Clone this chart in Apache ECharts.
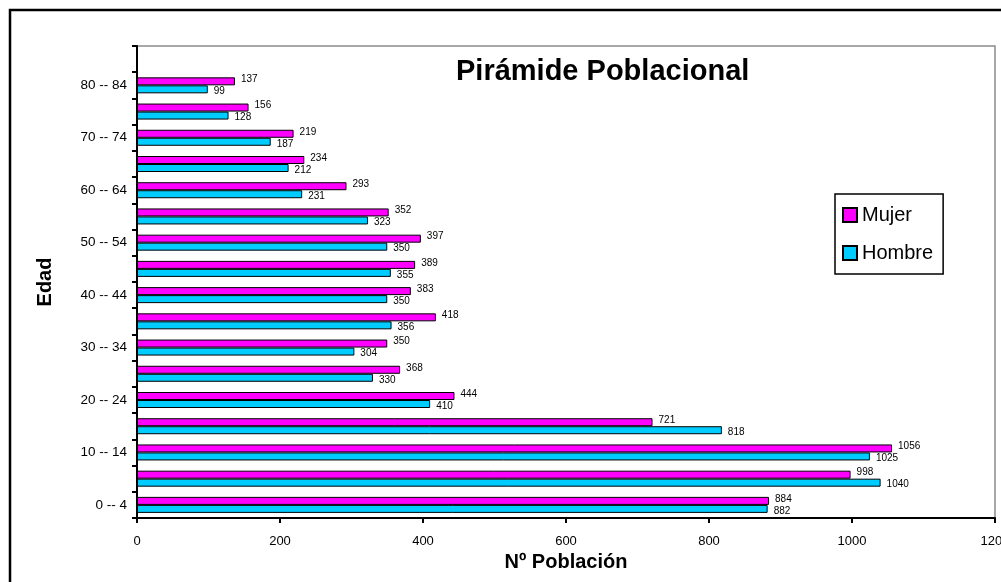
<!DOCTYPE html>
<html>
<head>
<meta charset="utf-8">
<script src="https://cdn.jsdelivr.net/npm/echarts@6/dist/echarts.min.js"></script>
<style>
  html, body { margin: 0; padding: 0; background: #fff; }
  #chart { width: 1001px; height: 582px; }
</style>
</head>
<body>
<div id="chart"></div>
<script>
// grupos de edad, de abajo hacia arriba (el último queda vacío, como en la hoja original)
const edades = ['0 -- 4', '5 -- 9', '10 -- 14', '15 -- 19', '20 -- 24', '25 -- 29', '30 -- 34',
  '35 -- 39', '40 -- 44', '45 -- 49', '50 -- 54', '55 -- 59', '60 -- 64', '65 -- 69',
  '70 -- 74', '75 -- 79', '80 -- 84', '']
const mujer = [884, 998, 1056, 721, 444, 368, 350, 418, 383, 389, 397, 352, 293, 234, 219, 156, 137, null]
const hombre = [882, 1040, 1025, 818, 410, 330, 304, 356, 350, 355, 350, 323, 231, 212, 187, 128, 99, null]
const ticksX = [0, 200, 400, 600, 800, 1000, 1200]

const fuente = 'Liberation Sans, Arial, sans-serif'
const chart = echarts.init(document.getElementById('chart'))

function serie(nombre, datos, color, dy) {
  return {
    name: nombre,
    type: 'bar',
    data: datos,
    barWidth: 8,
    barGap: '0%',
    itemStyle: { color: color, borderColor: '#000', borderWidth: 1 },
    label: {
      show: true, position: 'right', distance: 6, offset: [0, dy],
      color: '#000', fontSize: 10, fontFamily: fuente,
    },
  }
}

chart.setOption({
  backgroundColor: '#fff',
  animation: false,
  title: {
    text: 'Pirámide Poblacional',
    left: 451, top: 52,
    textStyle: { fontFamily: fuente, fontSize: 29, fontWeight: 'bold', color: '#000' },
  },
  legend: {
    data: ['Mujer', 'Hombre'],
    orient: 'vertical',
    left: 835, top: 194,
    padding: [11, 10, 11, 7],
    itemGap: 18,
    itemWidth: 14, itemHeight: 14,
    icon: 'rect',
    borderColor: '#000', borderWidth: 1.5,
    textStyle: { fontFamily: fuente, fontSize: 20, color: '#000' },
  },
  grid: {
    left: 137, right: 6, top: 46, bottom: 64,
    outerBoundsMode: 'none',
    containLabel: false,
    show: true, borderColor: '#8c8c8c', borderWidth: 1.5,
  },
  xAxis: {
    type: 'value',
    min: ticksX[0], max: ticksX[ticksX.length - 1], interval: 200,
    name: 'Nº Población',
    nameLocation: 'middle', nameGap: 34,
    nameTextStyle: { fontFamily: fuente, fontSize: 20, fontWeight: 'bold', color: '#000' },
    axisLine: { show: true, lineStyle: { color: '#000', width: 2 } },
    axisTick: { show: true, length: 5, lineStyle: { color: '#000', width: 2 } },
    axisLabel: {
      margin: 17, fontFamily: fuente, fontSize: 13, color: '#000',
      formatter: v => String(v), hideOverlap: false,
    },
    splitLine: { show: false },
  },
  yAxis: {
    type: 'category',
    data: edades,
    name: 'Edad',
    nameLocation: 'middle', nameGap: 82, nameRotate: 90,
    nameTextStyle: { fontFamily: fuente, fontSize: 20, fontWeight: 'bold', color: '#000' },
    axisLine: { show: true, lineStyle: { color: '#000', width: 2 } },
    axisTick: { show: true, interval: 0, length: 5, lineStyle: { color: '#000', width: 2 } },
    axisLabel: { interval: 1, margin: 10, fontFamily: fuente, fontSize: 13.5, color: '#000' },
  },
  series: [
    serie('Mujer', mujer, '#ff00ff', -2),
    serie('Hombre', hombre, '#00ccff', 2),
  ],
  graphic: [{
    type: 'rect', silent: true,
    shape: { x: 10, y: 10, width: 1100, height: 700 },
    style: { fill: null, stroke: '#000', lineWidth: 2.5 },
  }],
})
</script>
</body>
</html>
